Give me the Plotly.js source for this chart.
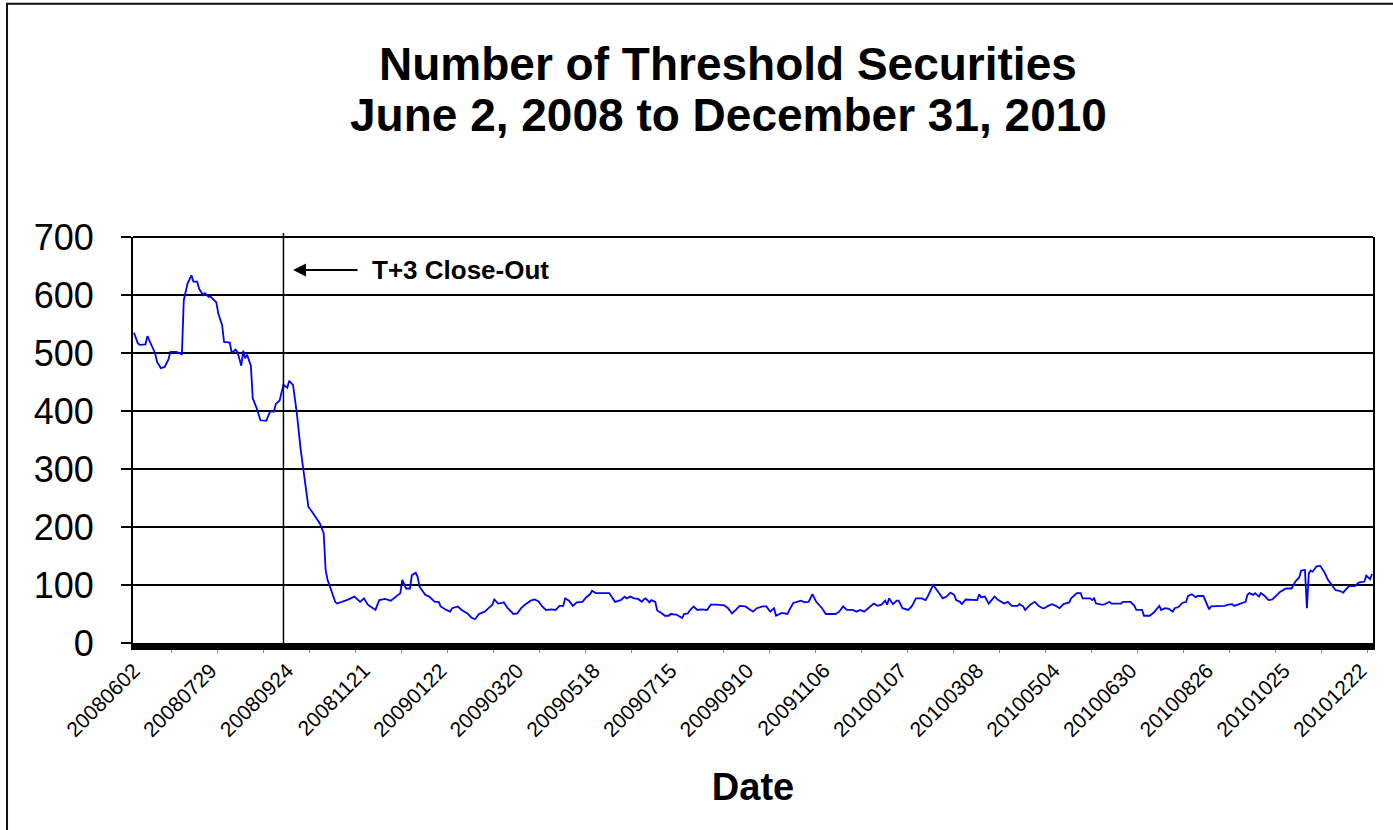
<!DOCTYPE html>
<html>
<head>
<meta charset="utf-8">
<script src="https://cdn.plot.ly/plotly-3.0.1.min.js"></script>
<style>
  html, body { margin: 0; padding: 0; background: #ffffff; }
  #chart { width: 1393px; height: 830px; }
</style>
</head>
<body>
<div id="chart"></div>
<script>
// Trading-day position (0 = 2008-06-02) of each sampled observation
const tradingDay = [
  0, 2, 3, 6, 7, 8, 10, 11, 12, 14, 16, 18, 19, 22, 24, 25, 26, 28, 30, 31,
  33, 34, 36, 37, 39, 40, 43, 44, 46, 47, 50, 51, 53, 54, 56, 57, 58, 59, 61, 62,
  64, 66, 69, 71, 73, 74, 76, 78, 80, 81, 83, 85, 87, 89, 91, 93, 95, 97, 99, 100,
  101, 103, 105, 106, 109, 111, 113, 115, 118, 120, 122, 126, 128, 131, 134, 139, 140, 142, 144, 145,
  147, 148, 149, 152, 154, 157, 159, 160, 163, 165, 166, 169, 171, 174, 176, 178, 180, 183, 185, 187,
  188, 190, 192, 193, 195, 198, 200, 202, 204, 207, 209, 211, 213, 215, 218, 220, 222, 224, 225, 227,
  229, 231, 234, 236, 238, 239, 241, 245, 248, 251, 254, 256, 257, 259, 261, 263, 265, 266, 267, 269,
  270, 272, 273, 275, 277, 279, 280, 283, 286, 287, 289, 290, 292, 294, 296, 299, 301, 304, 306, 308,
  310, 312, 314, 316, 319, 321, 323, 325, 328, 330, 332, 334, 335, 338, 341, 342, 344, 346, 348, 350,
  352, 354, 356, 359, 361, 363, 366, 368, 370, 372, 375, 377, 379, 381, 384, 386, 388, 390, 392, 393,
  394, 396, 398, 399, 401, 404, 406, 408, 411, 413, 414, 416, 417, 419, 421, 422, 424, 426, 428, 429,
  431, 432, 434, 437, 440, 441, 442, 444, 446, 449, 451, 454, 456, 458, 461, 462, 464, 465, 468, 470,
  472, 474, 475, 477, 479, 481, 483, 485, 488, 489, 492, 494, 495, 499, 500, 501, 502, 505, 506, 509,
  510, 515, 516, 520, 522, 523, 526, 527, 530, 532, 534, 535, 536, 538, 540, 542, 543, 545, 547, 549,
  550, 552, 554, 555, 558, 560, 561, 562, 564, 568, 569, 571, 573, 574, 576, 578, 580, 581, 582, 584,
  585, 587, 588, 590, 592, 594, 596, 598, 601, 604, 606, 608, 609, 611, 612, 613, 614, 615, 617, 619,
  621, 623, 625, 627, 629, 631, 632, 634, 637, 639, 642, 643, 645, 646
];

// Number of threshold securities on each of those days
const thresholdCount = [
  535, 517, 514, 515, 529, 522, 510, 500, 485, 474, 476, 489, 502, 502, 500, 497, 591, 620, 634, 623,
  623, 611, 600, 603, 597, 597, 587, 568, 548, 519, 518, 500, 506, 502, 478, 504, 491, 497, 478, 422,
  405, 384, 383, 399, 399, 412, 418, 445, 440, 452, 445, 396, 333, 287, 235, 226, 215, 206, 189, 126,
  109, 91, 71, 68, 71, 74, 77, 80, 71, 77, 66, 57, 74, 76, 73, 86, 109, 94, 94, 117,
  121, 114, 97, 83, 80, 71, 71, 63, 57, 54, 60, 63, 57, 51, 44, 41, 50, 54, 60, 66,
  75, 68, 69, 70, 60, 50, 51, 60, 66, 73, 75, 72, 63, 57, 58, 57, 64, 64, 77, 73,
  64, 70, 71, 79, 84, 90, 86, 86, 86, 71, 74, 80, 77, 80, 77, 76, 71, 75, 77, 70,
  74, 71, 56, 52, 47, 47, 50, 49, 43, 50, 51, 56, 63, 57, 58, 57, 66, 66, 66, 65,
  60, 51, 57, 64, 63, 58, 54, 60, 63, 63, 54, 60, 47, 52, 50, 57, 69, 71, 73, 70,
  71, 84, 71, 60, 50, 50, 50, 54, 63, 57, 57, 54, 57, 54, 63, 68, 64, 66, 73, 66,
  77, 67, 73, 73, 60, 57, 64, 77, 77, 74, 79, 93, 100, 91, 83, 77, 80, 87, 83, 74,
  71, 67, 75, 74, 74, 84, 79, 80, 68, 80, 74, 68, 71, 64, 64, 67, 63, 57, 67, 71,
  64, 60, 60, 64, 67, 64, 60, 67, 70, 77, 86, 86, 77, 77, 74, 77, 68, 66, 66, 71,
  68, 68, 71, 71, 64, 57, 57, 47, 47, 52, 60, 64, 57, 60, 59, 54, 60, 62, 69, 71,
  81, 84, 79, 81, 81, 66, 58, 63, 63, 64, 64, 66, 67, 64, 66, 68, 71, 83, 86, 83,
  86, 80, 86, 81, 74, 75, 81, 88, 94, 94, 106, 113, 125, 126, 60, 120, 125, 123, 132, 133,
  123, 109, 100, 91, 90, 87, 91, 98, 98, 104, 106, 116, 110, 119
];

// Category labels, one every 40 trading days
const tickDates = [
  '20080602', '20080729', '20080924', '20081121', '20090122', '20090320',
  '20090518', '20090715', '20090910', '20091106', '20100107', '20100308',
  '20100504', '20100630', '20100826', '20101025', '20101222'
];
const labelStep = 40;
const totalDays = 647;

// Start of the T+3 close-out requirement (trading-day position)
const closeOutDay = 78;

const FONT = 'Liberation Sans, Arial, Helvetica, sans-serif';

const trace = {
  type: 'scatter',
  mode: 'lines',
  x: tradingDay,
  y: thresholdCount,
  line: { color: '#0000ff', width: 1.8 },
  hoverinfo: 'x+y'
};

const layout = {
  width: 1393,
  height: 830,
  margin: { l: 133, r: 20, t: 237, b: 187, pad: 0 },
  paper_bgcolor: '#ffffff',
  plot_bgcolor: '#ffffff',
  font: { family: FONT, color: '#000000' },
  showlegend: false,
  xaxis: {
    range: [-0.5, totalDays - 0.5],
    tickmode: 'array',
    tickvals: tickDates.map((_, i) => i * labelStep),
    ticktext: tickDates,
    tickangle: -45,
    tickfont: { family: FONT, size: 21, color: '#000000' },
    ticks: '',
    minor: {
      ticks: 'outside',
      tickmode: 'linear',
      tick0: 19.5,
      dtick: 24,
      ticklen: 3,
      tickwidth: 1,
      tickcolor: '#888888',
      showgrid: false
    },
    showgrid: false,
    zeroline: false,
    showline: true,
    linecolor: '#000000',
    linewidth: 7,
    fixedrange: true,
    title: {
      text: 'Date',
      font: { family: FONT, size: 38, weight: 'bold', color: '#000000' },
      standoff: 36
    }
  },
  yaxis: {
    range: [0, 700],
    tickmode: 'linear',
    tick0: 0,
    dtick: 100,
    ticks: 'outside',
    ticklen: 10,
    tickwidth: 2,
    tickcolor: '#000000',
    tickfont: { family: FONT, size: 36, color: '#000000' },
    ticklabelstandoff: 20,
    showgrid: true,
    gridcolor: '#000000',
    gridwidth: 2,
    zeroline: false,
    showline: true,
    linecolor: '#000000',
    linewidth: 2,
    mirror: true,
    fixedrange: true
  },
  shapes: [
    // outer chart frame
    {
      type: 'rect', xref: 'paper', yref: 'paper',
      x0: -0.1016, x1: 1.05, y0: -0.6, y1: 1.5745,
      line: { color: '#111111', width: 2 }, layer: 'below'
    },
    // top edge of the plot area
    {
      type: 'line', xref: 'paper', yref: 'paper',
      x0: 0, x1: 1, y0: 1, y1: 1,
      line: { color: '#000000', width: 2 }
    },
    // T+3 close-out marker
    {
      type: 'line', xref: 'x', yref: 'paper',
      x0: closeOutDay, x1: closeOutDay, y0: 0, y1: 1.01,
      line: { color: '#000000', width: 1.5 }
    }
  ],
  annotations: [
    {
      text: 'Number of Threshold Securities',
      xref: 'paper', yref: 'paper', x: 0.48, y: 1.425,
      xanchor: 'center', yanchor: 'middle', showarrow: false,
      font: { family: FONT, size: 46, weight: 'bold', color: '#000000' }
    },
    {
      text: 'June 2, 2008 to December 31, 2010',
      xref: 'paper', yref: 'paper', x: 0.48, y: 1.30,
      xanchor: 'center', yanchor: 'middle', showarrow: false,
      font: { family: FONT, size: 46, weight: 'bold', color: '#000000' }
    },
    {
      text: '',
      xref: 'x', yref: 'y', x: closeOutDay + 5, y: 643,
      ax: 66, ay: 0, axref: 'pixel', ayref: 'pixel',
      showarrow: true, arrowhead: 2, arrowsize: 1.3, arrowwidth: 2,
      arrowcolor: '#000000'
    },
    {
      text: 'T+3 Close-Out',
      xref: 'x', yref: 'y', x: closeOutDay + 45, y: 643,
      xanchor: 'left', yanchor: 'middle', showarrow: false,
      font: { family: FONT, size: 26, weight: 'bold', color: '#000000' }
    }
  ]
};

Plotly.newPlot('chart', [trace], layout, { displayModeBar: false, staticPlot: true });
</script>
</body>
</html>
